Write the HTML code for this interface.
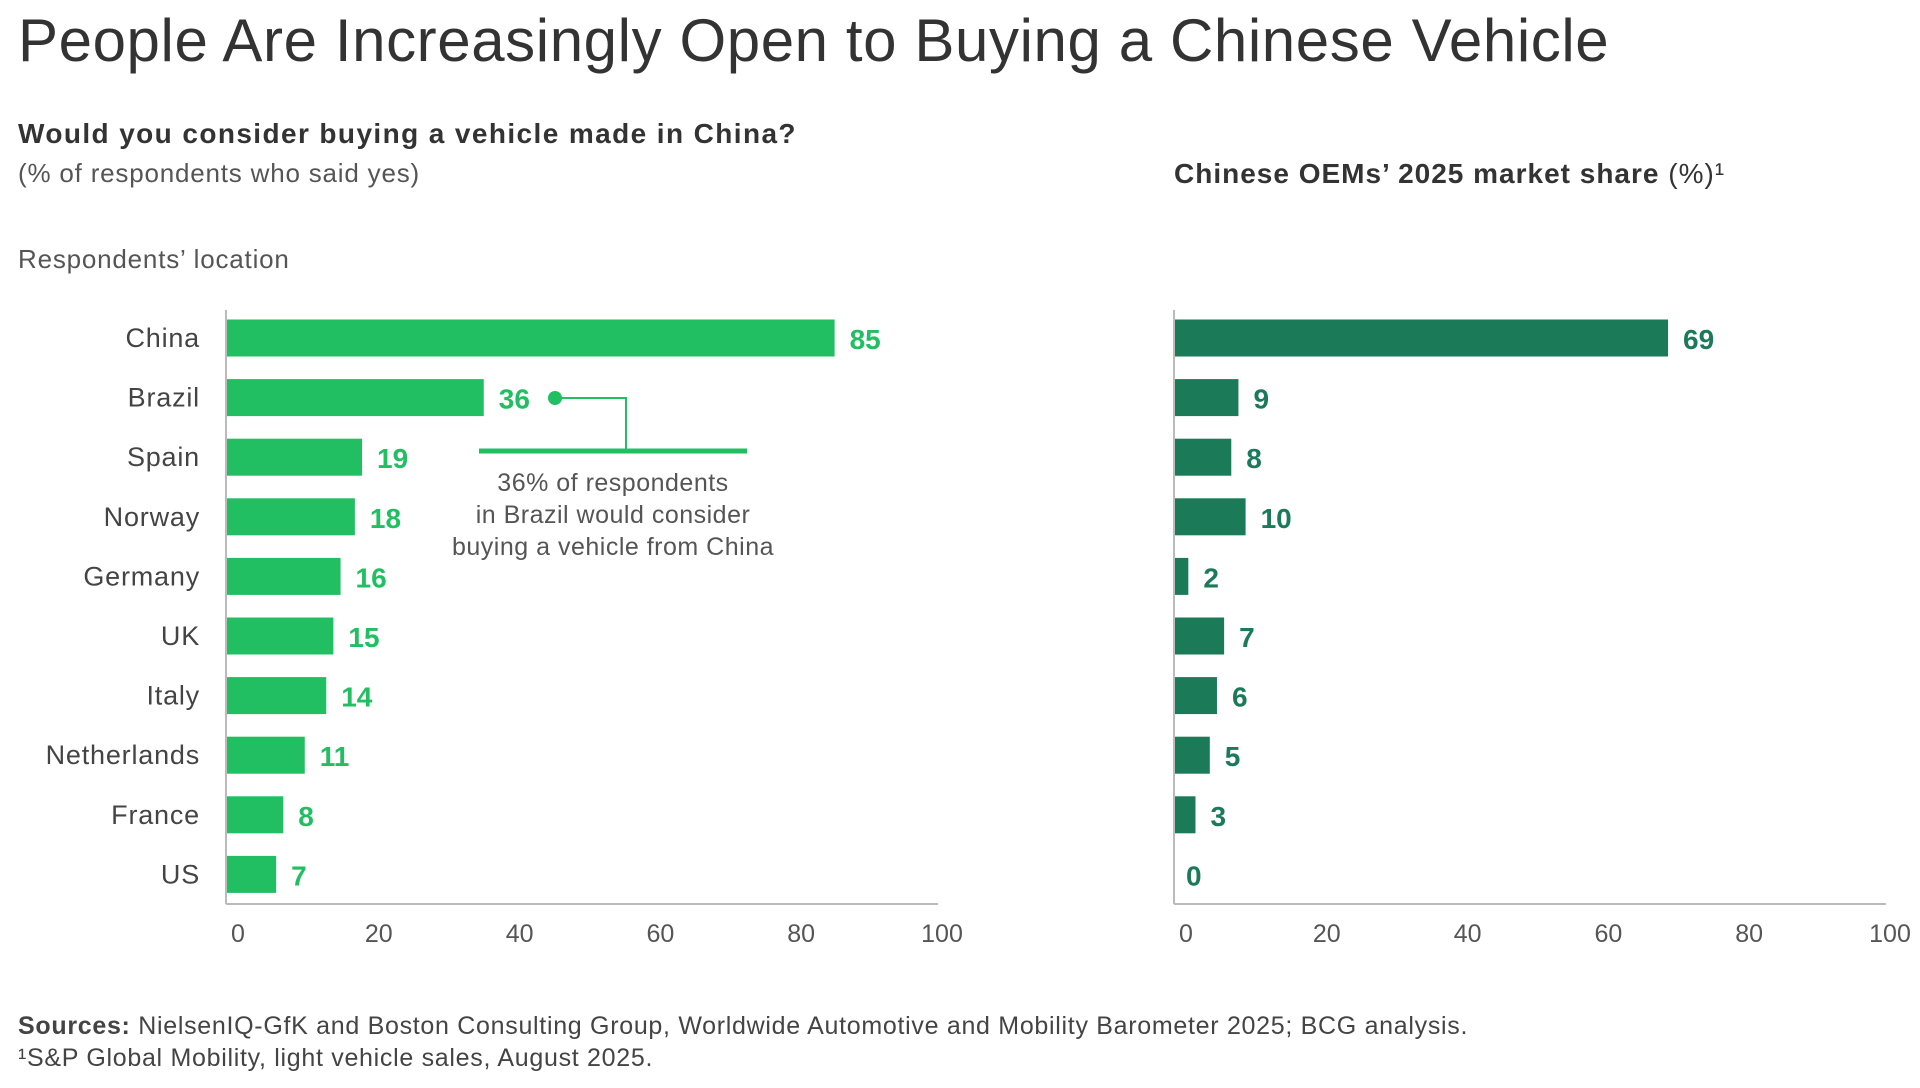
<!DOCTYPE html>
<html><head><meta charset="utf-8"><style>
html,body{margin:0;padding:0;background:#fff;}
body{width:1920px;height:1088px;position:relative;overflow:hidden;font-family:"Liberation Sans","DejaVu Sans",sans-serif;color:#333;}
.t{position:absolute;white-space:nowrap;}
svg{position:absolute;left:0;top:0;}
</style></head><body>
<div class="t" style="left:18px;top:6px;font-size:60px;font-weight:300;color:#333;letter-spacing:0.6px;">People Are Increasingly Open to Buying a Chinese Vehicle</div>
<div class="t" style="left:18px;top:118px;font-size:28px;font-weight:bold;color:#333;letter-spacing:1.4px;">Would you consider buying a vehicle made in China?</div>
<div class="t" style="left:18px;top:158px;font-size:26px;color:#555;letter-spacing:0.8px;">(% of respondents who said yes)</div>
<div class="t" style="left:18px;top:244px;font-size:26px;color:#555;letter-spacing:0.8px;">Respondents’ location</div>
<div class="t" style="left:1174px;top:158px;font-size:28px;font-weight:bold;color:#333;letter-spacing:1px;">Chinese OEMs’ 2025 market share <span style="font-weight:normal">(%)¹</span></div>
<div class="t" style="left:18px;top:1012px;font-size:25px;color:#444;letter-spacing:0.7px;"><b>Sources:</b> NielsenIQ-GfK and Boston Consulting Group, Worldwide Automotive and Mobility Barometer 2025; BCG analysis.</div>
<div class="t" style="left:18px;top:1044px;font-size:25px;color:#444;letter-spacing:0.7px;">¹S&amp;P Global Mobility, light vehicle sales, August 2025.</div>
<svg id="chart" width="1920" height="1088"></svg>
<script>
const categories=["China","Brazil","Spain","Norway","Germany","UK","Italy","Netherlands","France","US"];
const considerValues=[85,36,19,18,16,15,14,11,8,7];
const shareValues=[69,9,8,10,2,7,6,5,3,0];
const tickLabels=[0,20,40,60,80,100];
const NS="http://www.w3.org/2000/svg";
const svg=document.getElementById('chart');
function mk(tag,attrs,txt){const e=document.createElementNS(NS,tag);for(const k in attrs)e.setAttribute(k,attrs[k]);if(txt!==undefined)e.textContent=txt;svg.appendChild(e);return e;}
const rowY=i=>338+i*59.6;
const barH=37;
function drawChart(x0,x100,vals,color,key){
  const xs=v=>x0+(x100-x0)*v/100;
  vals.forEach((v,i)=>{
    const y=rowY(i);
    if(v>0){const r=mk('rect',{x:x0,y:y-barH/2,width:xs(v)-x0,height:barH,fill:color});
    
    }
    const t=mk('text',{x:xs(v)+(v>0?15:12),y:y+11,'font-size':28,'font-weight':'bold',fill:color},String(v));
    
    
  });
  const ax=mk('line',{x1:x0,y1:310,x2:x0,y2:904,stroke:'#bbb','stroke-width':2});
  
  
  const bx=mk('line',{x1:x0,y1:904,x2:x100-4,y2:904,stroke:'#bbb','stroke-width':2});
  
  
  tickLabels.forEach(tv=>{
    const t=mk('text',{x:xs(tv)+(1-tv/100)*12,y:942,'font-size':25,fill:'#555','text-anchor':'middle'},String(tv));
    
    
  });
}
categories.forEach((c,i)=>{
  const t=mk('text',{x:200,y:rowY(i)+9,'font-size':27,fill:'#444','text-anchor':'end','letter-spacing':'0.8'},c);
  
  
});
drawChart(226,942,considerValues,'#21BF61','consider');
drawChart(1174,1890,shareValues,'#1B7A57','share');
const g='#21BF61';
const dot=mk('circle',{cx:555,cy:398,r:7,fill:g});


const pl=mk('polyline',{points:'555,398 626,398 626,451',fill:'none',stroke:g,'stroke-width':2});


const hl=mk('line',{x1:479,y1:451,x2:747,y2:451,stroke:g,'stroke-width':5});


["36% of respondents","in Brazil would consider","buying a vehicle from China"].forEach((s,i)=>{
  const t=mk('text',{x:613,y:491+i*32,'font-size':25,fill:'#555','text-anchor':'middle','letter-spacing':'0.5'},s);
  
  
});
</script>
</body></html>
